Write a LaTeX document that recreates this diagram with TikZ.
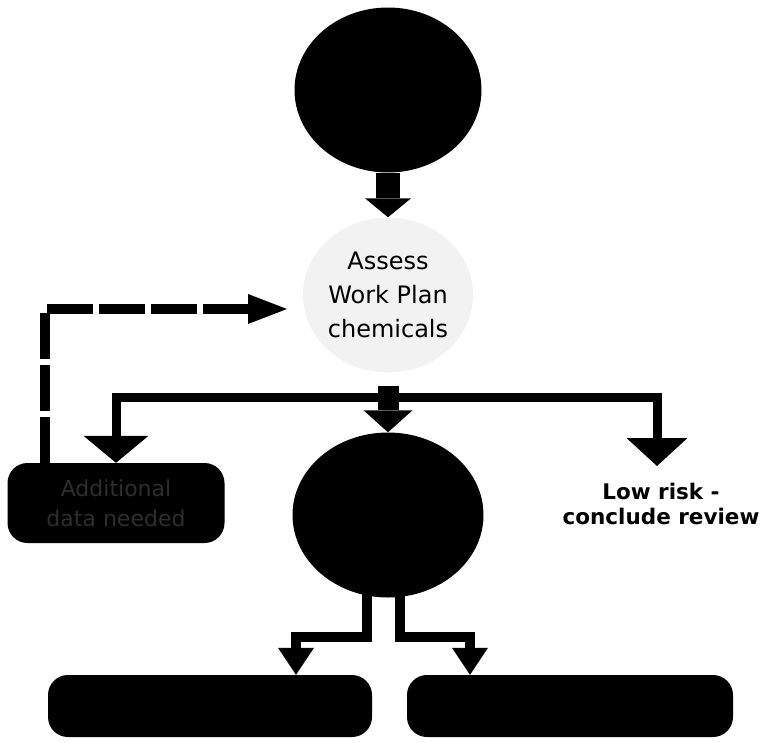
\documentclass[tikz,border=0pt]{standalone}
\usepackage{fontspec}
\setmainfont{DejaVu Sans}
\usetikzlibrary{arrows.meta,shapes.geometric}
\begin{document}
\begin{tikzpicture}[x=1pt,y=-1pt,
  blob/.style={ellipse, fill=black, inner sep=0pt},
  boxnode/.style={rectangle, rounded corners=20pt, fill=black, inner sep=0pt},
  tipA/.style={-{Triangle[width=46pt 0 0,length=19pt 0 0,line width=0pt 0 0]}},
  tipB/.style={-{Triangle[width=49pt 0 0,length=22pt 0 0,line width=0pt 0 0]}},
  tipC/.style={-{Triangle[width=65pt 0 0,length=27pt 0 0,line width=0pt 0 0]}},
  tipD/.style={-{Triangle[width=61pt 0 0,length=28pt 0 0,line width=0pt 0 0]}},
  tipE/.style={-{Triangle[width=30pt 0 0,length=39pt 0 0,line width=0pt 0 0]}},
  tipF/.style={-{Triangle[width=36pt 0 0,length=27pt 0 0,line width=0pt 0 0]}},
  conn/.style={draw=black, line join=miter},
]
\useasboundingbox (0,0) rectangle (760,742);

% nodes
\node[blob, minimum width=187pt, minimum height=165pt] (top) at (388,90) {};
\node[ellipse, fill=black!5, minimum width=160pt, minimum height=155pt, inner sep=0pt,
      align=center, font=\fontsize{24}{34}\selectfont] (assess) at (388,295) {Assess\\Work Plan\\chemicals};
\node[blob, minimum width=191pt, minimum height=165pt] (mid) at (388,515) {};
\node[boxnode, minimum width=217pt, minimum height=80pt, text=white!18!black,
      align=center, font=\fontsize{22}{30}\selectfont] (addl) at (116,503) {Additional\\data needed};
\node[align=center, inner sep=0pt, font=\bfseries\fontsize{21.5}{25}\selectfont] (low) at (661,504) {Low risk -\\conclude review};
\node[boxnode, minimum width=324pt, minimum height=62pt] (bl) at (210,706) {};
\node[boxnode, minimum width=326pt, minimum height=62pt] (br) at (570,706) {};

% helper coordinates
\coordinate (j) at (388,397);
\coordinate (shafttop) at (388,386);
\coordinate (lowtip) at (657,466);
\coordinate (fbstart) at (45,463);
\coordinate (fbtip) at (287,309);
\coordinate (ml) at (367,590);
\coordinate (mr) at (400,590);
\coordinate (bll) at (296,637);
\coordinate (brr) at (470,637);

% connectors
\draw[conn, line width=24pt, tipA] (top.south) -- (top.south |- assess.north);
\draw[conn, line width=9pt, tipC] (j) -| (addl.north);
\draw[conn, line width=9pt, tipD] (j) -| (lowtip);
\draw[conn, line width=21pt, tipB] (shafttop) -- (mid.north);
\draw[conn, line width=10pt, dash pattern=on 46pt off 6pt, tipE] (fbstart) |- (fbtip);
\draw[conn, line width=10pt, tipF] (ml) |- (bll) -- (bll |- bl.north);
\draw[conn, line width=10pt, tipF] (mr) |- (brr) -- (brr |- br.north);
\end{tikzpicture}
\end{document}
